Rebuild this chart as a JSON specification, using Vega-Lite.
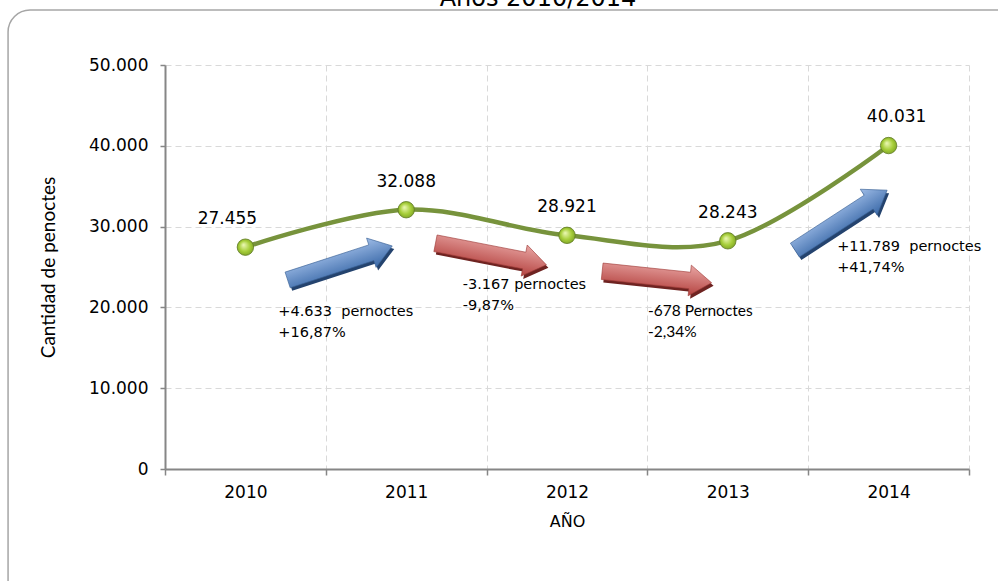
{
  "$schema": "https://vega.github.io/schema/vega-lite/v6.json",
  "width": 804,
  "height": 404,
  "autosize": {"type": "none"},
  "padding": {"left": 165, "top": 65, "right": 29, "bottom": 112},
  "background": "white",
  "config": {
    "locale": {"number": {"decimal": ",", "thousands": ".", "grouping": [3], "currency": ["", " €"]}},
    "view": {"stroke": null},
    "font": "DejaVu Sans"
  },
  "title": {
    "text": "Años 2010/2014",
    "fontSize": 24,
    "font": "DejaVu Sans",
    "fontWeight": "normal",
    "color": "#000000",
    "frame": "group",
    "anchor": "middle",
    "dx": -29,
    "offset": -21,
    "baseline": "alphabetic"
  },
  "datasets": {
    "serie": [
      {"anio": 2010, "pernoctes": 27455},
      {"anio": 2011, "pernoctes": 32088},
      {"anio": 2012, "pernoctes": 28921},
      {"anio": 2013, "pernoctes": 28243},
      {"anio": 2014, "pernoctes": 40031}
    ],
    "marco": [
      {"x0": 2008.524, "x1": 2016.2, "y0": 56807, "y1": -30000}
    ],
    "flechas": [
      {"tramo": "2010-2011", "x": 2010.588, "y": 25500},
      {"tramo": "2011-2012", "x": 2011.527, "y": 26600},
      {"tramo": "2012-2013", "x": 2012.559, "y": 23760},
      {"tramo": "2013-2014", "x": 2013.704, "y": 30800}
    ],
    "notas": [
      {"tramo": "2010-2011", "x": 2010.205, "y": 20297, "texto": "+4.633 \u00a0pernoctes\n+16,87%"},
      {"tramo": "2011-2012", "x": 2011.352, "y": 23639, "texto": "-3.167 pernoctes\n-9,87%"},
      {"tramo": "2012-2013", "x": 2012.504, "y": 20421, "texto": "-678 Pernoctes\n-2,34%"},
      {"tramo": "2013-2014", "x": 2013.68, "y": 28342, "texto": "+11.789 \u00a0pernoctes\n+41,74%"}
    ]
  },
  "layer": [
    {
      "data": {"name": "serie"},
      "mark": {"type": "line", "interpolate": "cardinal", "color": "#77933C", "strokeWidth": 4.5},
      "encoding": {
        "x": {
          "field": "anio",
          "type": "quantitative",
          "scale": {"domain": [2009.5, 2014.5], "nice": false, "zero": false},
          "axis": {
            "values": [2009.5, 2010.5, 2011.5, 2012.5, 2013.5, 2014.5],
            "labelExpr": "datum.value < 2014 ? '' + (datum.value + 0.5) : ''",
            "labelOffset": 80.4,
            "labelFlush": false,
            "labelOverlap": false,
            "labelBound": false,
            "labelFontSize": 17,
            "labelColor": "#000000",
            "labelPadding": 9,
            "grid": true,
            "gridColor": "#D9D9D9",
            "gridDash": [6, 4],
            "gridWidth": 1,
            "domainColor": "#868686",
            "domainWidth": 2,
            "tickColor": "#868686",
            "tickWidth": 1.5,
            "tickSize": 6,
            "title": "AÑO",
            "titleFontSize": 16,
            "titleFontWeight": "normal",
            "titleColor": "#000000",
            "titlePadding": 13
          }
        },
        "y": {
          "field": "pernoctes",
          "type": "quantitative",
          "scale": {"domain": [0, 50000], "nice": false},
          "axis": {
            "values": [0, 10000, 20000, 30000, 40000, 50000],
            "format": ",d",
            "labelFontSize": 17,
            "labelColor": "#000000",
            "labelPadding": 12,
            "grid": true,
            "gridColor": "#D9D9D9",
            "gridDash": [6, 4],
            "gridWidth": 1,
            "domainColor": "#868686",
            "domainWidth": 2,
            "tickColor": "#868686",
            "tickWidth": 1.5,
            "tickSize": 5,
            "title": "Cantidad de penoctes",
            "titleFont": "Lato",
            "titleFontSize": 19,
            "titleFontWeight": "normal",
            "titleColor": "#000000",
            "titlePadding": 30
          }
        }
      }
    },
    {
      "data": {"name": "marco"},
      "mark": {"type": "rect", "fill": null, "stroke": "#A6A6A6", "strokeWidth": 1.5, "cornerRadius": 22, "clip": false},
      "encoding": {
        "x": {"field": "x0", "type": "quantitative"},
        "x2": {"field": "x1"},
        "y": {"field": "y0", "type": "quantitative"},
        "y2": {"field": "y1"}
      }
    },
    {
      "data": {"name": "serie"},
      "mark": {
        "type": "circle",
        "size": 270,
        "opacity": 1,
        "stroke": "#5E7A22",
        "strokeWidth": 0.8,
        "fill": {
          "gradient": "radial",
          "x1": 0.38, "y1": 0.35, "r1": 0,
          "x2": 0.5, "y2": 0.5, "r2": 0.55,
          "stops": [
            {"offset": 0, "color": "#EEF9B8"},
            {"offset": 0.6, "color": "#A6CE39"},
            {"offset": 1, "color": "#7DA226"}
          ]
        }
      },
      "encoding": {
        "x": {"field": "anio", "type": "quantitative"},
        "y": {"field": "pernoctes", "type": "quantitative"}
      }
    },
    {
      "data": {"name": "serie"},
      "transform": [{"filter": "datum.anio == 2010"}],
      "mark": {"type": "text", "fontSize": 17, "font": "DejaVu Sans", "color": "#000000", "dy": -28, "dx": -18, "baseline": "middle"},
      "encoding": {
        "x": {"field": "anio", "type": "quantitative"},
        "y": {"field": "pernoctes", "type": "quantitative"},
        "text": {"field": "pernoctes", "type": "quantitative", "format": ",d"}
      }
    },
    {
      "data": {"name": "serie"},
      "transform": [{"filter": "datum.anio > 2010 && datum.anio < 2014"}],
      "mark": {"type": "text", "fontSize": 17, "font": "DejaVu Sans", "color": "#000000", "dy": -28, "baseline": "middle"},
      "encoding": {
        "x": {"field": "anio", "type": "quantitative"},
        "y": {"field": "pernoctes", "type": "quantitative"},
        "text": {"field": "pernoctes", "type": "quantitative", "format": ",d"}
      }
    },
    {
      "data": {"name": "serie"},
      "transform": [{"filter": "datum.anio == 2014"}],
      "mark": {"type": "text", "fontSize": 17, "font": "DejaVu Sans", "color": "#000000", "dy": -29, "dx": 8, "baseline": "middle"},
      "encoding": {
        "x": {"field": "anio", "type": "quantitative"},
        "y": {"field": "pernoctes", "type": "quantitative"},
        "text": {"field": "pernoctes", "type": "quantitative", "format": ",d"}
      }
    },
    {
      "data": {"name": "flechas"},
      "transform": [{"filter": "datum.tramo == '2010-2011'"}],
      "mark": {"type": "point", "filled": true, "opacity": 1, "size": 12100, "angle": 342, "xOffset": 2, "yOffset": 3, "color": "#24436E", "shape": "M -1 -0.15 L 0.6 -0.15 L 0.6 -0.28 L 1 0 L 0.6 0.28 L 0.6 0.15 L -1 0.15 Z"},
      "encoding": {
        "x": {"field": "x", "type": "quantitative"},
        "y": {"field": "y", "type": "quantitative"}
      }
    },
    {
      "data": {"name": "flechas"},
      "transform": [{"filter": "datum.tramo == '2010-2011'"}],
      "mark": {"type": "point", "filled": true, "opacity": 1, "size": 12100, "angle": 342, "stroke": "#3B6296", "strokeWidth": 0.6,
        "fill": {"gradient": "linear", "x1": 0, "y1": 0, "x2": 0, "y2": 1, "stops": [{"offset": 0, "color": "#9DBBE6"}, {"offset": 1, "color": "#3A69A8"}]},
        "shape": "M -1 -0.15 L 0.6 -0.15 L 0.6 -0.28 L 1 0 L 0.6 0.28 L 0.6 0.15 L -1 0.15 Z"},
      "encoding": {
        "x": {"field": "x", "type": "quantitative"},
        "y": {"field": "y", "type": "quantitative"}
      }
    },
    {
      "data": {"name": "flechas"},
      "transform": [{"filter": "datum.tramo == '2011-2012'"}],
      "mark": {"type": "point", "filled": true, "opacity": 1, "size": 12770, "angle": 11, "xOffset": 2, "yOffset": 3, "color": "#6E2321", "shape": "M -1 -0.15 L 0.6 -0.15 L 0.6 -0.28 L 1 0 L 0.6 0.28 L 0.6 0.15 L -1 0.15 Z"},
      "encoding": {
        "x": {"field": "x", "type": "quantitative"},
        "y": {"field": "y", "type": "quantitative"}
      }
    },
    {
      "data": {"name": "flechas"},
      "transform": [{"filter": "datum.tramo == '2011-2012'"}],
      "mark": {"type": "point", "filled": true, "opacity": 1, "size": 12770, "angle": 11, "stroke": "#9E3B38", "strokeWidth": 0.6,
        "fill": {"gradient": "linear", "x1": 0, "y1": 0, "x2": 0, "y2": 1, "stops": [{"offset": 0, "color": "#E8A5A3"}, {"offset": 1, "color": "#B4423F"}]},
        "shape": "M -1 -0.15 L 0.6 -0.15 L 0.6 -0.28 L 1 0 L 0.6 0.28 L 0.6 0.15 L -1 0.15 Z"},
      "encoding": {
        "x": {"field": "x", "type": "quantitative"},
        "y": {"field": "y", "type": "quantitative"}
      }
    },
    {
      "data": {"name": "flechas"},
      "transform": [{"filter": "datum.tramo == '2012-2013'"}],
      "mark": {"type": "point", "filled": true, "opacity": 1, "size": 12100, "angle": 6, "xOffset": 2, "yOffset": 3, "color": "#6E2321", "shape": "M -1 -0.15 L 0.6 -0.15 L 0.6 -0.28 L 1 0 L 0.6 0.28 L 0.6 0.15 L -1 0.15 Z"},
      "encoding": {
        "x": {"field": "x", "type": "quantitative"},
        "y": {"field": "y", "type": "quantitative"}
      }
    },
    {
      "data": {"name": "flechas"},
      "transform": [{"filter": "datum.tramo == '2012-2013'"}],
      "mark": {"type": "point", "filled": true, "opacity": 1, "size": 12100, "angle": 6, "stroke": "#9E3B38", "strokeWidth": 0.6,
        "fill": {"gradient": "linear", "x1": 0, "y1": 0, "x2": 0, "y2": 1, "stops": [{"offset": 0, "color": "#E8A5A3"}, {"offset": 1, "color": "#B4423F"}]},
        "shape": "M -1 -0.15 L 0.6 -0.15 L 0.6 -0.28 L 1 0 L 0.6 0.28 L 0.6 0.15 L -1 0.15 Z"},
      "encoding": {
        "x": {"field": "x", "type": "quantitative"},
        "y": {"field": "y", "type": "quantitative"}
      }
    },
    {
      "data": {"name": "flechas"},
      "transform": [{"filter": "datum.tramo == '2013-2014'"}],
      "mark": {"type": "point", "filled": true, "opacity": 1, "size": 12100, "angle": 327, "xOffset": 2, "yOffset": 3, "color": "#24436E", "shape": "M -1 -0.15 L 0.6 -0.15 L 0.6 -0.28 L 1 0 L 0.6 0.28 L 0.6 0.15 L -1 0.15 Z"},
      "encoding": {
        "x": {"field": "x", "type": "quantitative"},
        "y": {"field": "y", "type": "quantitative"}
      }
    },
    {
      "data": {"name": "flechas"},
      "transform": [{"filter": "datum.tramo == '2013-2014'"}],
      "mark": {"type": "point", "filled": true, "opacity": 1, "size": 12100, "angle": 327, "stroke": "#3B6296", "strokeWidth": 0.6,
        "fill": {"gradient": "linear", "x1": 0, "y1": 0, "x2": 0, "y2": 1, "stops": [{"offset": 0, "color": "#9DBBE6"}, {"offset": 1, "color": "#3A69A8"}]},
        "shape": "M -1 -0.15 L 0.6 -0.15 L 0.6 -0.28 L 1 0 L 0.6 0.28 L 0.6 0.15 L -1 0.15 Z"},
      "encoding": {
        "x": {"field": "x", "type": "quantitative"},
        "y": {"field": "y", "type": "quantitative"}
      }
    },
    {
      "data": {"name": "notas"},
      "transform": [{"filter": "datum.tramo != '2012-2013'"}],
      "mark": {"type": "text", "align": "left", "baseline": "top", "fontSize": 14.5, "font": "DejaVu Sans", "color": "#000000", "lineBreak": "\n", "lineHeight": 21},
      "encoding": {
        "x": {"field": "x", "type": "quantitative"},
        "y": {"field": "y", "type": "quantitative"},
        "text": {"field": "texto"}
      }
    },
    {
      "data": {"name": "notas"},
      "transform": [{"filter": "datum.tramo == '2012-2013'"}],
      "mark": {"type": "text", "align": "left", "baseline": "top", "fontSize": 15.5, "font": "Lato", "color": "#000000", "lineBreak": "\n", "lineHeight": 21},
      "encoding": {
        "x": {"field": "x", "type": "quantitative"},
        "y": {"field": "y", "type": "quantitative"},
        "text": {"field": "texto"}
      }
    }
  ]
}
